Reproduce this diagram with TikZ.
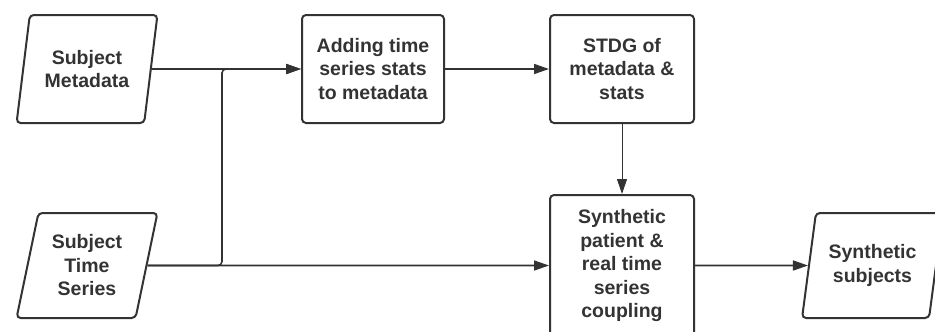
\documentclass[tikz,border=0pt]{standalone}
\usepackage{fontspec}
\setmainfont{Liberation Sans}
\usetikzlibrary{arrows.meta,shapes.geometric}
\definecolor{ink}{HTML}{333333}
\begin{document}
\begin{tikzpicture}[x=1pt,y=-1pt,
  box/.style={draw=ink, line width=2pt, rounded corners=4pt, text=ink,
    font=\fontsize{19.5}{23.5}\selectfont\bfseries, align=center, inner sep=0pt},
  proc/.style={box, rectangle, minimum width=142pt, minimum height=108pt},
  io/.style={box, trapezium, trapezium left angle=75.5, trapezium right angle=104.5,
    trapezium stretches=true, minimum width=141pt},
  conn/.style={draw=ink, line width=1.6pt, -{Triangle[length=15pt,width=10pt]}}
]
\useasboundingbox (0,0) rectangle (935,332);
\clip (0,0) rectangle (935,332);
\node[io, minimum height=108pt] (meta) at (87,69) {Subject\\Metadata};
\node[io, minimum height=105pt] (ts) at (87,265.5) {Subject\\Time\\Series};
\node[proc] (add) at (373,69) {Adding time\\series stats\\to metadata};
\node[proc, minimum width=144pt] (stdg) at (622,69) {STDG of\\metadata \&\\stats};
\node[proc, minimum width=144pt, minimum height=141pt] (syn) at (622,265.5) {Synthetic\\patient \&\\real time\\series\\coupling};
\node[io, minimum height=105pt] (out) at (872.5,265.5) {Synthetic\\subjects};
\coordinate (j) at (222,69);
\draw[conn] (meta.east) -- (add.west);
\draw[conn, rounded corners=4pt] (ts.east) -| (j) -- (add.west);
\draw[conn] (ts.east) -- (syn.west);
\draw[conn] (add.east) -- (stdg.west);
\draw[conn, line width=1pt] (stdg.south) -- (syn.north);
\draw[conn] (syn.east) -- (out.west);
\end{tikzpicture}
\end{document}
